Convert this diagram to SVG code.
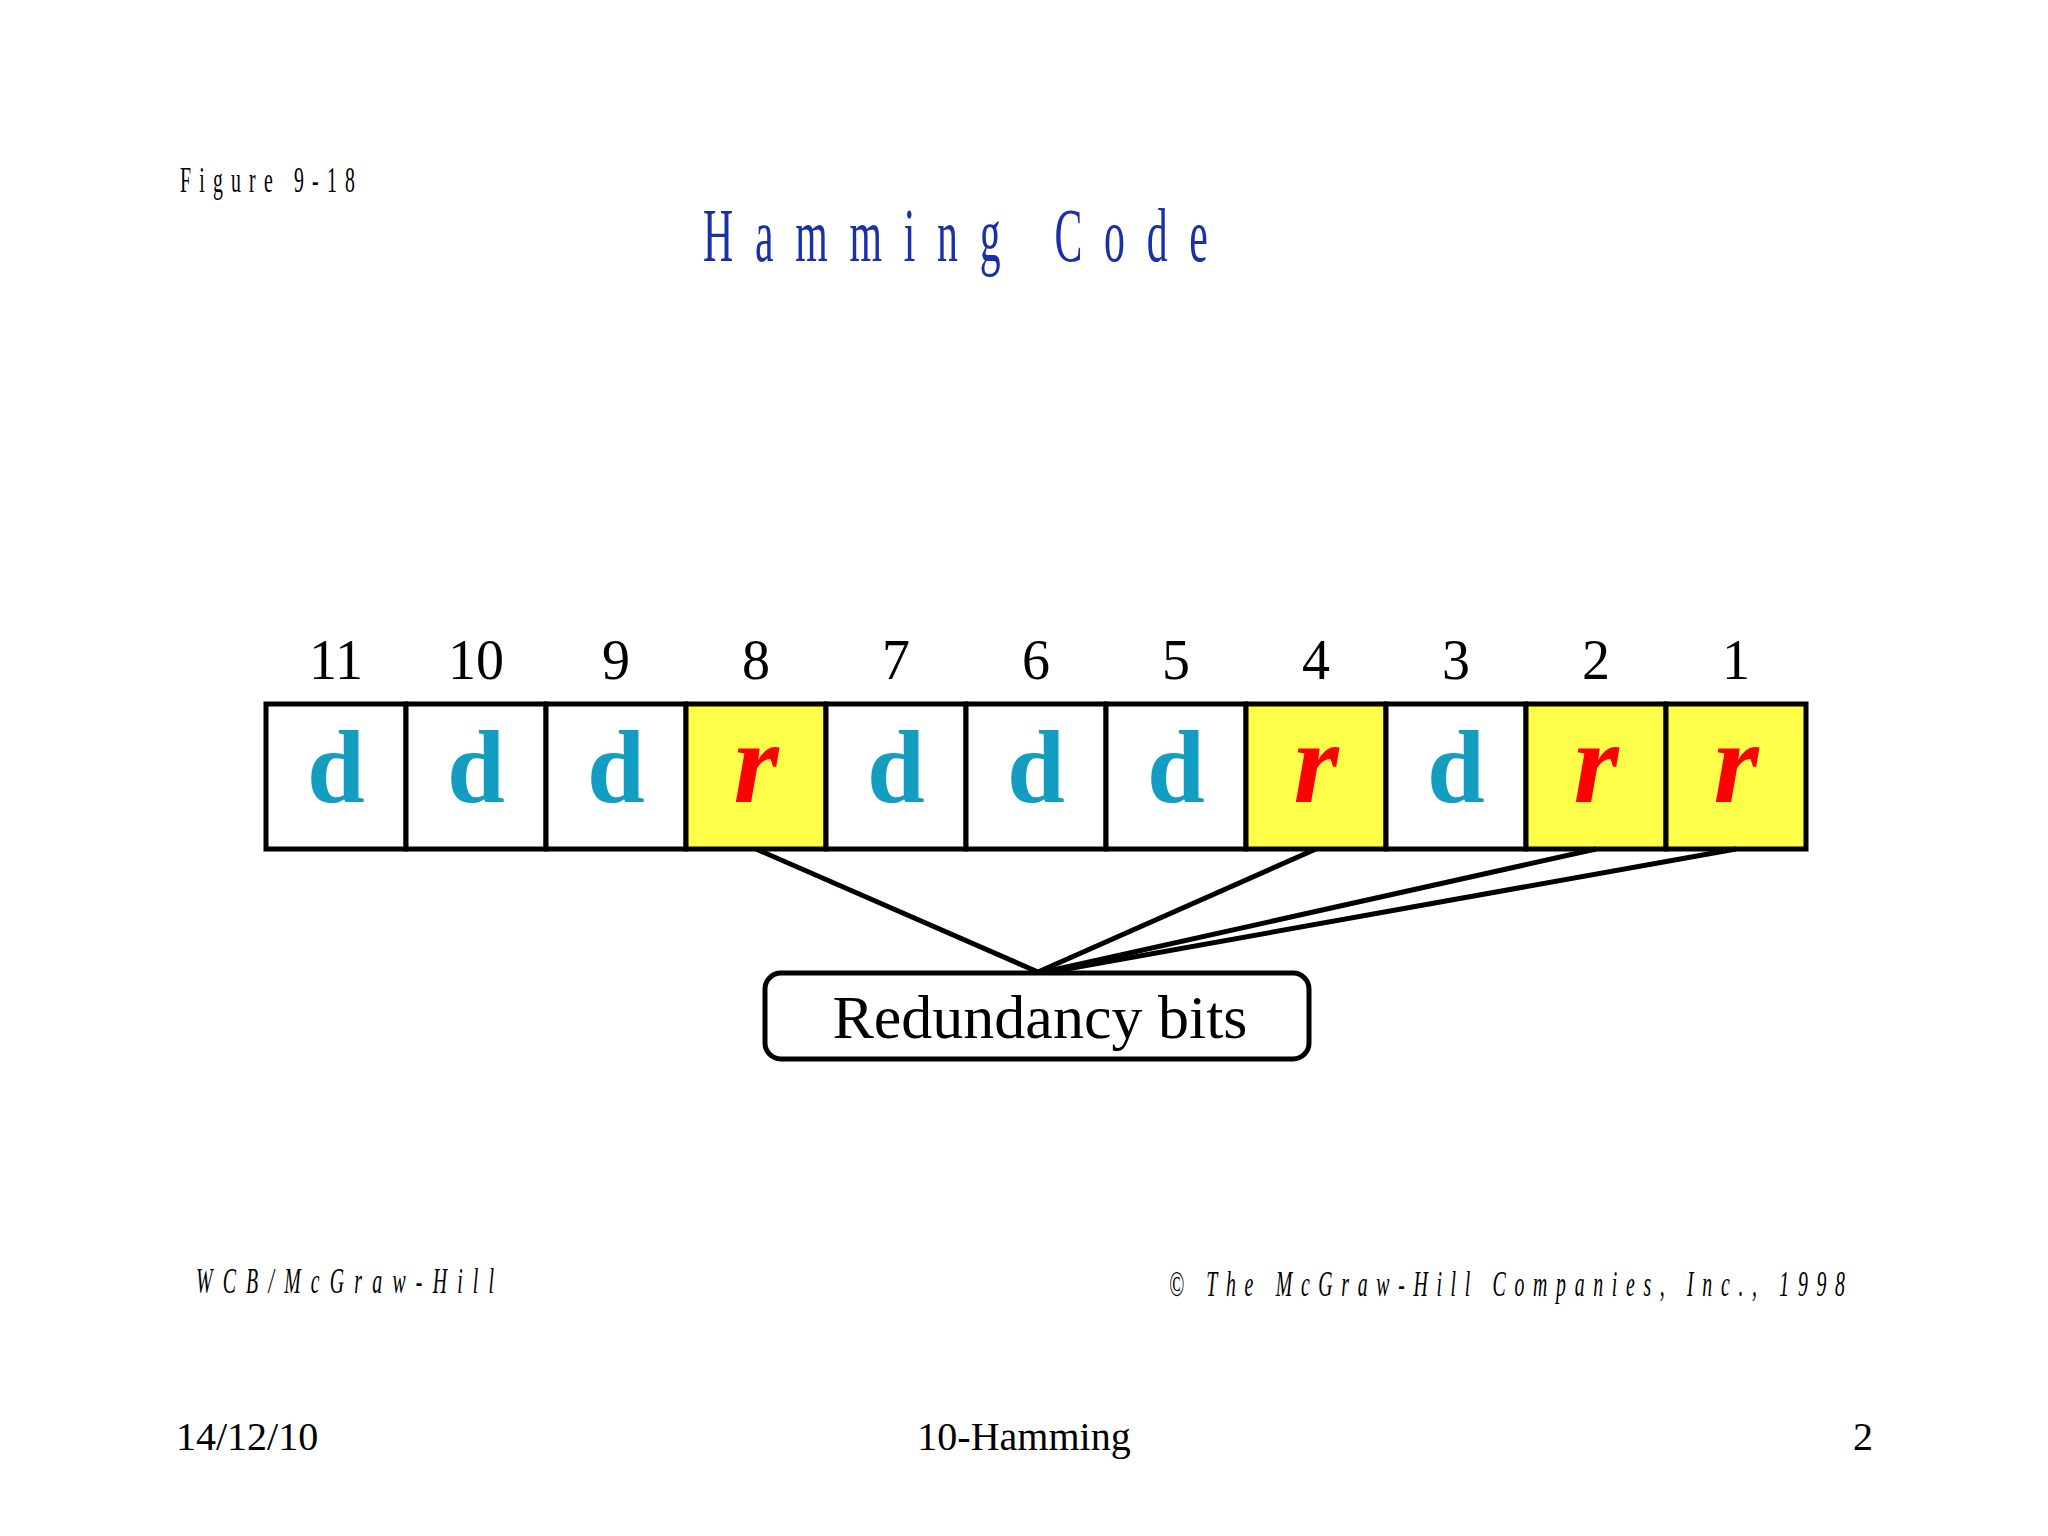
<svg xmlns="http://www.w3.org/2000/svg" width="2048" height="1536" viewBox="0 0 2048 1536">
<style>
.cond{font-family:"Liberation Serif","Times New Roman",serif;}
.num{font-family:"Liberation Serif","Times New Roman",serif;font-size:56px;fill:#000;text-anchor:middle;}
.cell{stroke:#000;stroke-width:5;}
.data{fill:#fff;}
.red{fill:#ffff4a;}
.d{font-family:"Liberation Serif","Times New Roman",serif;font-weight:bold;font-size:104px;fill:#139dc0;text-anchor:middle;}
.r{font-family:"Liberation Serif","Times New Roman",serif;font-weight:bold;font-style:italic;font-size:116px;fill:#ff0000;text-anchor:middle;}
.conn{stroke:#000;stroke-width:5;fill:none;}
.foot{font-family:"Liberation Serif","Times New Roman",serif;font-size:40px;fill:#000;}
</style>
<rect width="2048" height="1536" fill="#fff"/>
<g id="figure-label" transform="translate(180,192) scale(0.55,1)">
<text class="cond" x="0" y="0" font-size="36" textLength="318" lengthAdjust="spacing">Figure 9-18</text>
</g>
<g id="title" transform="translate(703,261) scale(0.55,1)">
<text class="cond" x="0" y="0" font-size="76" fill="#1a30a8" textLength="918" lengthAdjust="spacing">Hamming Code</text>
</g>
<g id="bit-11"><text class="num" x="336" y="679">11</text><rect class="cell data" x="266" y="704" width="140" height="145"/><text class="d" x="336" y="802">d</text></g>
<g id="bit-10"><text class="num" x="476" y="679">10</text><rect class="cell data" x="406" y="704" width="140" height="145"/><text class="d" x="476" y="802">d</text></g>
<g id="bit-9"><text class="num" x="616" y="679">9</text><rect class="cell data" x="546" y="704" width="140" height="145"/><text class="d" x="616" y="802">d</text></g>
<g id="bit-8"><text class="num" x="756" y="679">8</text><rect class="cell red" x="686" y="704" width="140" height="145"/><text class="r" x="756" y="802">r</text></g>
<g id="bit-7"><text class="num" x="896" y="679">7</text><rect class="cell data" x="826" y="704" width="140" height="145"/><text class="d" x="896" y="802">d</text></g>
<g id="bit-6"><text class="num" x="1036" y="679">6</text><rect class="cell data" x="966" y="704" width="140" height="145"/><text class="d" x="1036" y="802">d</text></g>
<g id="bit-5"><text class="num" x="1176" y="679">5</text><rect class="cell data" x="1106" y="704" width="140" height="145"/><text class="d" x="1176" y="802">d</text></g>
<g id="bit-4"><text class="num" x="1316" y="679">4</text><rect class="cell red" x="1246" y="704" width="140" height="145"/><text class="r" x="1316" y="802">r</text></g>
<g id="bit-3"><text class="num" x="1456" y="679">3</text><rect class="cell data" x="1386" y="704" width="140" height="145"/><text class="d" x="1456" y="802">d</text></g>
<g id="bit-2"><text class="num" x="1596" y="679">2</text><rect class="cell red" x="1526" y="704" width="140" height="145"/><text class="r" x="1596" y="802">r</text></g>
<g id="bit-1"><text class="num" x="1736" y="679">1</text><rect class="cell red" x="1666" y="704" width="140" height="145"/><text class="r" x="1736" y="802">r</text></g>
<g id="connectors">
<line class="conn" x1="756" y1="849" x2="1038" y2="972"/>
<line class="conn" x1="1316" y1="849" x2="1038" y2="972"/>
<line class="conn" x1="1596" y1="849" x2="1044" y2="972"/>
<line class="conn" x1="1736" y1="849" x2="1050" y2="972"/>
</g>
<g id="redundancy-bits">
<rect x="765" y="973" width="544" height="86" rx="16" ry="16" fill="#fff" stroke="#000" stroke-width="5"/>
<text x="1040" y="1038" font-family="Liberation Serif, Times New Roman, serif" font-size="62" text-anchor="middle">Redundancy bits</text>
</g>
<g id="publisher" transform="translate(196,1293) scale(0.55,1)">
<text class="cond" x="0" y="0" font-size="36" font-style="italic" textLength="542" lengthAdjust="spacing">WCB/McGraw-Hill</text>
</g>
<g id="copyright" transform="translate(1169,1296) scale(0.55,1)">
<text class="cond" x="0" y="0" font-size="36" font-style="italic" textLength="1229" lengthAdjust="spacing">© The McGraw-Hill Companies, Inc., 1998</text>
</g>
<g id="footer">
<text class="foot" x="176" y="1450">14/12/10</text>
<text class="foot" x="1024" y="1450" text-anchor="middle">10-Hamming</text>
<text class="foot" x="1873" y="1450" text-anchor="end">2</text>
</g>
</svg>
